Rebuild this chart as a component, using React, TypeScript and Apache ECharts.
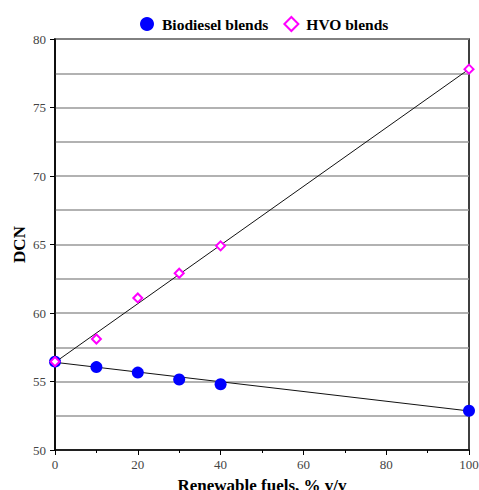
import React, { useEffect, useRef } from "react";
import * as echarts from "echarts";

const blendPct = [0, 10, 20, 30, 40, 100];
const biodieselDCN = [56.45, 56.05, 55.65, 55.15, 54.8, 52.87];
const hvoDCN = [56.45, 58.1, 61.1, 62.9, 64.9, 77.8];
const trendX = [0, 100];
const biodieselTrend = [56.4, 52.85];
const hvoTrend = [56.4, 77.8];

const serif = "Liberation Serif";

export default function App() {
  const ref = useRef<HTMLDivElement>(null);
  useEffect(() => {
    const chart = echarts.init(ref.current!, null, { renderer: "svg" });
    chart.setOption({
      animation: false,
      backgroundColor: "#fff",
      legend: {
        data: ["Biodiesel blends", "HVO blends"],
        top: 11,
        left: 135,
        itemGap: 15,
        itemWidth: 14,
        itemHeight: 14,
        textStyle: {
          fontFamily: serif,
          fontWeight: "bold",
          fontSize: 15.5,
          color: "#000",
          padding: [0, 0, 0, 3],
        },
      },
      grid: {
        left: 55,
        right: 10,
        top: 39,
        bottom: 40,
        show: true,
        borderColor: "#000",
        borderWidth: 1.5,
        outerBoundsMode: "none",
        containLabel: false,
      },
      xAxis: {
        type: "value",
        min: 0,
        max: 100,
        interval: 20,
        name: "Renewable fuels, % v/v",
        nameLocation: "middle",
        nameGap: 27,
        nameMoveOverlap: false,
        nameTextStyle: { fontFamily: serif, fontWeight: "bold", fontSize: 17, color: "#000" },
        axisLine: { show: true, lineStyle: { color: "#000", width: 1.5 } },
        axisTick: { show: true, length: 5, lineStyle: { color: "#000" } },
        minorTick: { show: true, splitNumber: 2, length: 3, lineStyle: { color: "#000" } },
        axisLabel: { fontFamily: serif, fontSize: 13, color: "#444", margin: 8 },
        splitLine: { show: false },
      },
      yAxis: {
        type: "value",
        min: 50,
        max: 80,
        interval: 5,
        name: "DCN",
        nameLocation: "middle",
        nameGap: 27,
        nameMoveOverlap: false,
        nameTextStyle: { fontFamily: serif, fontWeight: "bold", fontSize: 17, color: "#000" },
        axisLine: { show: true, lineStyle: { color: "#000", width: 1.5 } },
        axisTick: { show: true, length: 5, lineStyle: { color: "#000" } },
        minorTick: { show: true, splitNumber: 2, length: 0 },
        axisLabel: { fontFamily: serif, fontSize: 13, color: "#444", margin: 9 },
        splitLine: { show: true, lineStyle: { color: "#999", width: 1.5 } },
        minorSplitLine: { show: true, lineStyle: { color: "#999", width: 1.5 } },
      },
      series: [
        {
          name: "Biodiesel trend",
          type: "line",
          data: trendX.map((x, i) => [x, biodieselTrend[i]]),
          showSymbol: false,
          symbol: "none",
          lineStyle: { color: "#111", width: 1 },
          z: 3,
        },
        {
          name: "HVO trend",
          type: "line",
          data: trendX.map((x, i) => [x, hvoTrend[i]]),
          showSymbol: false,
          symbol: "none",
          lineStyle: { color: "#111", width: 1 },
          z: 3,
        },
        {
          name: "Biodiesel blends",
          type: "scatter",
          symbol: "circle",
          symbolSize: 12,
          itemStyle: { color: "#0000ff", opacity: 1 },
          data: blendPct.map((x, i) => [x, biodieselDCN[i]]),
          z: 4,
        },
        {
          name: "HVO blends",
          type: "scatter",
          symbol: "diamond",
          symbolSize: 9,
          itemStyle: { color: "#fff", borderColor: "#ff00ff", borderWidth: 2, opacity: 1 },
          data: blendPct.map((x, i) => [x, hvoDCN[i]]),
          z: 5,
        },
      ],
    });
    return () => chart.dispose();
  }, []);
  return <div ref={ref} style={{ width: 479, height: 490, position: "absolute", left: 0, top: 0 }} />;
}
